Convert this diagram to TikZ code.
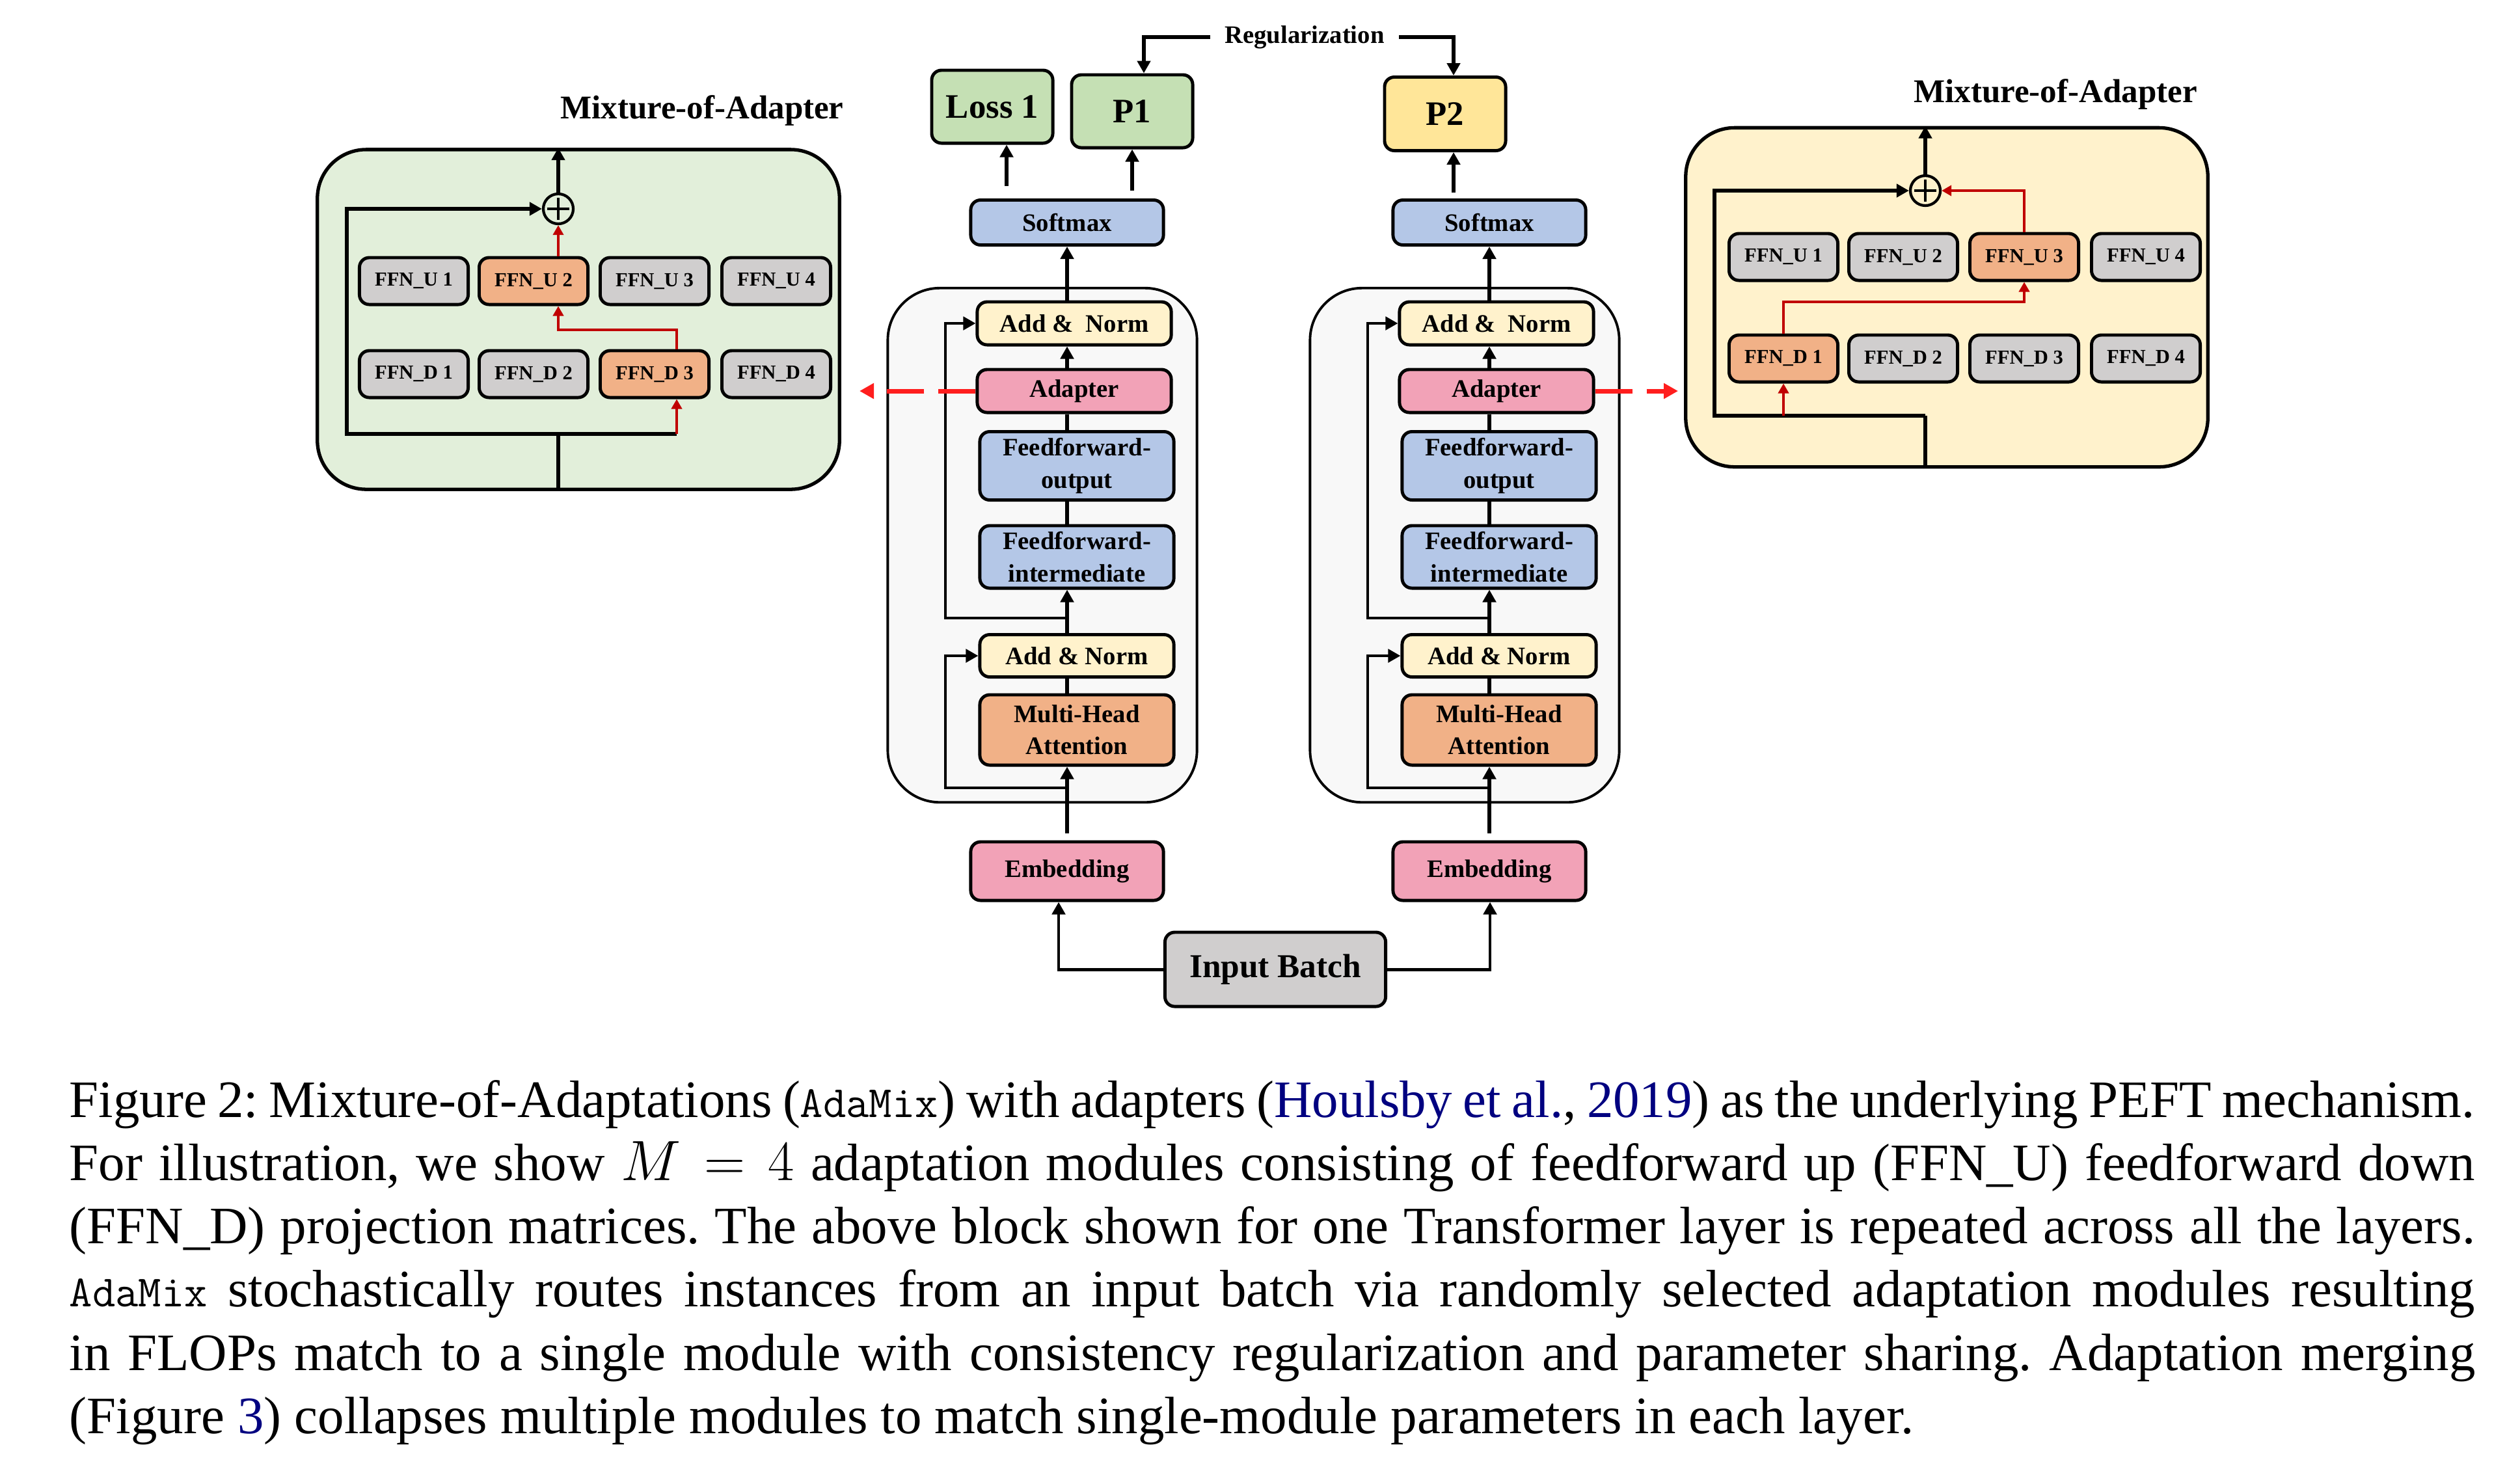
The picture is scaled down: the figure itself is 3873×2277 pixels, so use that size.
\documentclass[tikz,border=0pt]{standalone}
\usepackage{fontspec}
\setmainfont{Liberation Serif}
\usepackage{xcolor}
\usepackage{amssymb,amsmath}
\usetikzlibrary{arrows.meta}

\definecolor{mixgreen}{HTML}{E2EFDA}
\definecolor{mixyellow}{HTML}{FFF2CC}
\definecolor{ffngray}{HTML}{D0CECE}
\definecolor{pickorange}{HTML}{F1B187}
\definecolor{layergray}{HTML}{F8F8F8}
\definecolor{normyellow}{HTML}{FFF2CC}
\definecolor{adapink}{HTML}{F2A2B7}
\definecolor{ffblue}{HTML}{B4C7E7}
\definecolor{lossgreen}{HTML}{C5E0B4}
\definecolor{pyellow}{HTML}{FFE699}
\definecolor{routered}{HTML}{C00000}
\definecolor{dashred}{HTML}{FF1E1E}
\definecolor{citeblue}{HTML}{000080}

\newcommand{\adamix}{{\fontsize{19.5}{27}\selectfont\ttfamily AdaMix}}

\begin{document}
\begin{tikzpicture}[x=0.01cm,y=-0.01cm,line width=1.6pt,
    >={Triangle[length=0.19cm,width=0.2cm]},
    box/.style={draw,line width=1.4pt,rounded corners=0.15cm,align=center,
                inner sep=0pt,font=\fontsize{11}{14}\selectfont\bfseries},
    layer box/.style={box,minimum width=2.98cm},
    ffn box/.style={box,minimum width=1.67cm,minimum height=0.72cm,
                    font=\fontsize{8.7}{10}\selectfont\bfseries},
    out box/.style={box,minimum width=1.86cm,minimum height=1.12cm,
                    font=\fontsize{15}{18}\selectfont\bfseries},
    layer frame/.style={draw,line width=1.1pt,fill=layergray,rounded corners=0.8cm,
                        minimum width=4.75cm,minimum height=7.9cm},
    mix box/.style={draw,line width=1.5pt,rounded corners=0.75cm,
                    minimum width=8.02cm,minimum height=5.22cm},
    mix title/.style={font=\fontsize{14.5}{17}\selectfont\bfseries},
    sum node/.style={circle,draw,line width=1.2pt,minimum size=0.46cm,inner sep=0pt,
                     path picture={
                       \draw[line width=1.2pt]
                         ([xshift=-0.17cm]path picture bounding box.center) -- ([xshift=0.17cm]path picture bounding box.center)
                         ([yshift=-0.17cm]path picture bounding box.center) -- ([yshift=0.17cm]path picture bounding box.center);}},
    route/.style={draw=routered,line width=1.2pt,-{Triangle[length=0.15cm,width=0.16cm]}},
    dash route/.style={draw=dashred,line width=2pt,dash pattern=on 0.57cm off 0.22cm,
                       -{Triangle[length=0.22cm,width=0.23cm]}}]

  \useasboundingbox (0,0) rectangle (3873,2277);

  % two transformer layers
  \foreach \s/\dx in {L/0,R/649}{
    \node[layer frame] (frame\s) at (1602+\dx,838) {};
    \node[layer box,fill=normyellow,minimum height=0.66cm] (addTop\s) at (1651+\dx,497) {Add \&\enspace Norm};
    \node[layer box,fill=adapink,minimum height=0.66cm] (ada\s) at (1651+\dx,601) {Adapter};
    \node[layer box,fill=ffblue,minimum height=1.05cm] (ffo\s) at (1655+\dx,716) {Feedforward-\\output};
    \node[layer box,fill=ffblue,minimum height=0.96cm] (ffi\s) at (1655+\dx,856) {Feedforward-\\intermediate};
    \node[layer box,fill=normyellow,minimum height=0.65cm] (addBot\s) at (1655+\dx,1008) {Add \& Norm};
    \node[layer box,fill=pickorange,minimum height=1.08cm] (mha\s) at (1655+\dx,1122) {Multi-Head\\Attention};
    \node[layer box,fill=ffblue,minimum width=2.96cm,minimum height=0.69cm] (soft\s) at (1640+\dx,342) {Softmax};
    \node[layer box,fill=adapink,minimum width=2.96cm,minimum height=0.90cm] (emb\s) at (1640+\dx,1339) {Embedding};

    \draw[->,shorten <=0.11cm] (emb\s.north) -- (emb\s.north |- mha\s.south);
    \foreach \a/\b/\tip in {mha/addBot/-,addBot/ffi/->,ffi/ffo/-,ffo/ada/-,ada/addTop/->}
      \draw[\tip] (emb\s.north |- \a\s.north) -- (emb\s.north |- \b\s.south);
    \draw[->] (emb\s.north |- addTop\s.north) -- (soft\s.south);

    % residual paths
    \coordinate (skA\s) at (1453+\dx,1211);
    \coordinate (skB\s) at (1453+\dx,950);
    \draw[->,line width=1.4pt] (emb\s.north |- skA\s) -- (skA\s) |- (addBot\s.west);
    \draw[->,line width=1.4pt] (emb\s.north |- skB\s) -- (skB\s) |- (addTop\s.west);
  }

  % outputs and regularization
  \node[out box,fill=lossgreen] (loss) at (1525,164) {Loss 1};
  \node[out box,fill=lossgreen] (p1) at (1740,171) {P1};
  \node[out box,fill=pyellow,minimum height=1.13cm] (p2) at (2221,175) {P2};
  \coordinate (oLoss) at (1547,286);
  \coordinate (oP1) at (1740,293);
  \coordinate (oP2) at (2234,296);
  \draw[->] (oLoss) -- (oLoss |- loss.south);
  \draw[->] (oP1) -- (oP1 |- p1.south);
  \draw[->] (oP2) -- (oP2 |- p2.south);

  \node[font=\fontsize{11}{13}\selectfont\bfseries,inner xsep=0.2cm,inner ysep=0pt] (reg) at (2005,57) {Regularization};
  \coordinate (rg1) at (1758,57);
  \coordinate (rg2) at (2234,57);
  \draw[->,line width=1.9pt] (reg.west) -- (rg1) -- (rg1 |- p1.north);
  \draw[->,line width=1.9pt] (reg.east) -- (rg2) -- (rg2 |- p2.north);

  % input batch
  \node[box,fill=ffngray,minimum width=3.39cm,minimum height=1.14cm,
        font=\fontsize{14.6}{17}\selectfont\bfseries] (batch) at (1960,1490) {Input Batch};
  \coordinate (inL) at (1627,1489);
  \coordinate (inR) at (2290,1487);
  \draw[->,line width=1.4pt] (batch.west) -| (inL |- embL.south);
  \draw[->,line width=1.4pt] (batch.east) -| (inR |- embR.south);

  % left mixture-of-adapter
  \node[mix box,fill=mixgreen] (mixL) at (889,491) {};
  \node[mix title] (titleL) at (1079,170) {Mixture-of-Adapter};
  \foreach \i/\x/\cu/\cd in {1/636/ffngray/ffngray,2/820/pickorange/ffngray,
                             3/1006/ffngray/pickorange,4/1193/ffngray/ffngray}{
    \node[ffn box,fill=\cu] (uL\i) at (\x,432) {FFN\_U \i};
    \node[ffn box,fill=\cd] (dL\i) at (\x,575) {FFN\_D \i};
  }
  \node[sum node] (sumL) at (858,321) {};
  \coordinate (jL) at (858,667);
  \coordinate (rL) at (1040,667);
  \coordinate (kL) at (858,507);
  \draw (mixL.south -| jL) -- (jL) -- (rL);
  \draw[->] (jL) -- (533,667) |- (sumL.west);
  \draw[->] (sumL.north) -- (sumL.north |- mixL.north);
  \draw[route] (rL) -- (rL |- dL3.south);
  \draw[route] (rL |- dL3.north) |- (kL) -- (kL |- uL2.south);
  \draw[route] (kL |- uL2.north) -- (sumL.south);

  % right mixture-of-adapter
  \node[mix box,fill=mixyellow,minimum height=5.21cm] (mixR) at (2992,457) {};
  \node[mix title] (titleR) at (3159,145) {Mixture-of-Adapter};
  \foreach \i/\x/\cu/\cd in {1/2741/ffngray/pickorange,2/2925/ffngray/ffngray,
                             3/3111/pickorange/ffngray,4/3298/ffngray/ffngray}{
    \node[ffn box,fill=\cu] (uR\i) at (\x,395) {FFN\_U \i};
    \node[ffn box,fill=\cd] (dR\i) at (\x,551) {FFN\_D \i};
  }
  \node[sum node] (sumR) at (2959,293) {};
  \coordinate (jR) at (2959,639);
  \coordinate (kR) at (3111,464);
  \draw (mixR.south -| jR) -- (jR);
  \draw[->] (jR) -- (2635,639) |- (sumR.west);
  \draw[->] (sumR.north) -- (sumR.north |- mixR.north);
  \draw[route] (dR1.south |- jR) -- (dR1.south);
  \draw[route] (dR1.north) |- (kR) -- (uR3.south);
  \draw[route] (uR3.north) |- (sumR.east);

  % adapter routing
  \coordinate (toMixL) at (1321,601);
  \coordinate (toMixR) at (2579,601);
  \draw[dash route] (adaL.west) -- (toMixL);
  \draw[dash route] (adaR.east) -- (toMixR);

  % caption
  \node[anchor=north west,inner sep=0pt,text width=36.95cm,align=justify,
        font=\fontsize{23}{27.6}\selectfont\frenchspacing] (caption) at (104,1658)
    {Figure 2: Mixture-of-Adaptations (\adamix) with adapters (\textcolor{citeblue}{Houlsby et al.}, \textcolor{citeblue}{2019}) as the underlying PEFT mechanism.\linebreak
     For illustration, we show $M=4$ adaptation modules consisting of feedforward up (FFN\_U) feedforward down\linebreak
     (FFN\_D) projection matrices. The above block shown for one Transformer layer is repeated across all the layers.\linebreak
     \adamix{} stochastically routes instances from an input batch via randomly selected adaptation modules resulting\linebreak
     in FLOPs match to a single module with consistency regularization and parameter sharing. Adaptation merging\linebreak
     (Figure~\textcolor{citeblue}{3}) collapses multiple modules to match single-module parameters in each layer.};
\end{tikzpicture}
\end{document}
